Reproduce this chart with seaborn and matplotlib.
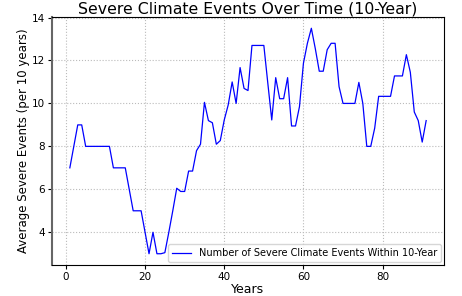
import matplotlib
matplotlib.use("Agg")
import matplotlib.pyplot as plt
import seaborn as sns
import pandas as pd
import numpy as np

years = list(range(1, 92))
avg_events = [
    7.0, 8.0, 9.0, 9.0, 8.0, 8.0, 8.0, 8.0, 8.0, 8.0,   # 1-10
    8.0, 7.0, 7.0, 7.0, 7.0, 6.0, 5.0, 5.0, 5.0, 4.0,   # 11-20
    3.0, 4.0, 3.0, 3.0, 3.05, 4.0, 5.0, 6.05, 5.9, 5.9,  # 21-30
    6.85, 6.85, 7.8, 8.1, 10.05, 9.2, 9.1, 8.1, 8.27, 9.23,  # 31-40
    9.93, 11.0, 10.0, 11.67, 10.7, 10.6, 12.7, 12.7, 12.7, 12.7,  # 41-50
    10.95, 9.23, 11.2, 10.22, 10.22, 11.2, 8.95, 8.95, 9.85, 11.87,  # 51-60
    12.8, 13.5, 12.55, 11.5, 11.5, 12.5, 12.8, 12.8, 10.78, 10.0,  # 61-70
    10.0, 10.0, 10.0, 10.98, 10.0, 8.0, 8.0, 8.85, 10.33, 10.33,  # 71-80
    10.33, 10.33, 11.28, 11.28, 11.28, 12.27, 11.45, 9.6, 9.2, 8.2,  # 81-90
    9.2,  # 91
]
series_label = "Number of Severe Climate Events Within 10-Year"
title = "Severe Climate Events Over Time (10-Year)"
xlabel = "Years"
ylabel = "Average Severe Events (per 10 years)"

df = pd.DataFrame({"Years": years, "Avg": avg_events})

fig, ax = plt.subplots(figsize=(4.62, 2.96), dpi=100)
fig.subplots_adjust(left=0.1126, right=0.961, top=0.9426, bottom=0.1047)

sns.lineplot(data=df, x="Years", y="Avg", ax=ax, color="blue", linewidth=0.9,
             label=series_label)

ax.set_title(title, fontsize=11.3, pad=2)
ax.set_xlabel(xlabel, fontsize=9, labelpad=1)
ax.set_ylabel(ylabel, fontsize=8.5, labelpad=1.5)
ax.tick_params(labelsize=7.5, length=3, pad=2)
ax.grid(True, linestyle=":", color="#bbbbbb", linewidth=0.8)
ax.set_xticks([0, 20, 40, 60, 80])
ax.set_yticks([4, 6, 8, 10, 12, 14])
ax.spines["left"].set_color("#666666")
ax.spines["left"].set_linewidth(1.5)
ax.legend(loc="lower right", fontsize=7.0, borderaxespad=0.3, handlelength=2.0,
          borderpad=0.4)

fig.savefig("out.png", dpi=100)
